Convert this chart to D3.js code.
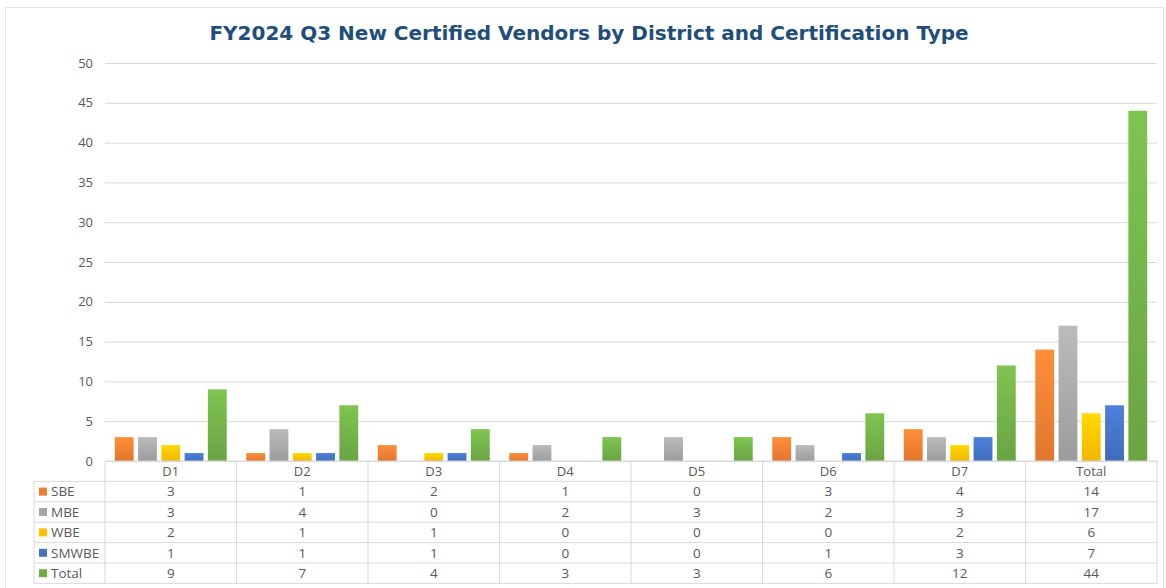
<!DOCTYPE html>
<html lang="en">
<head>
  <meta charset="UTF-8">
  <title>FY2024 Q3 New Certified Vendors by District and Certification Type</title>
  <script src="https://d3js.org/d3.v7.min.js"></script>
  <style>
    body { margin: 0; background: #fff; font-family: "Open Sans", Arial, sans-serif; }
    svg { display: block; }
  </style>
</head>
<body>
  <svg id="chart" width="1166" height="588"></svg>
  <script>
    // categories and series
    const districts = ["D1", "D2", "D3", "D4", "D5", "D6", "D7", "Total"];
    const seriesNames = ["SBE", "MBE", "WBE", "SMWBE", "Total"];
    const sbe   = [3, 1, 2, 1, 0, 3, 4, 14];
    const mbe   = [3, 4, 0, 2, 3, 2, 3, 17];
    const wbe   = [2, 1, 1, 0, 0, 0, 2, 6];
    const smwbe = [1, 1, 1, 0, 0, 1, 3, 7];
    const total = [9, 7, 4, 3, 3, 6, 12, 44];
    const yTicks = [0, 5, 10, 15, 20, 25, 30, 35, 40, 45, 50];

    const seriesValues = [sbe, mbe, wbe, smwbe, total];
    const colors = ["#ED7D31", "#A5A5A5", "#FFC000", "#4472C4", "#70AD47"];

    const svg = d3.select("#chart");
    const plotLeft = 105, plotRight = 1157, plotTop = 63, plotBottom = 461;
    const rowH = 20.4;
    const gridColor = "#d9d9d9";

    // outer border
    svg.append("rect")
      .attr("x", 5.5).attr("y", 7.5)
      .attr("width", 1158).attr("height", 585)
      .attr("fill", "none").attr("stroke", "#e2e2e2");

    // gradients for bars
    const defs = svg.append("defs");
    colors.forEach((c, i) => {
      const g = defs.append("linearGradient")
        .attr("id", "grad" + i)
        .attr("x1", 0).attr("y1", 0).attr("x2", 0).attr("y2", 1);
      g.append("stop").attr("offset", "0%").attr("stop-color", d3.color(c).brighter(0.35));
      g.append("stop").attr("offset", "100%").attr("stop-color", d3.color(c).darker(0.15));
    });

    // title
    svg.append("text")
      .attr("x", 589).attr("y", 40)
      .attr("text-anchor", "middle")
      .attr("fill", "#1F4E79")
      .style("font-family", "'DejaVu Sans', Verdana, sans-serif")
      .style("font-weight", "bold")
      .style("font-size", "20px")
      .text("FY2024 Q3 New Certified Vendors by District and Certification Type");

    const x = d3.scaleBand().domain(districts).range([plotLeft, plotRight]).paddingInner(0).paddingOuter(0);
    const xInner = d3.scaleBand().domain(seriesNames.map((s, i) => i)).range([0, x.bandwidth()])
      .paddingInner(0.19).paddingOuter(0.42);
    const y = d3.scaleLinear().domain([0, 50]).range([plotBottom, plotTop]);

    // gridlines + y axis labels
    const yAxis = svg.append("g")
      .attr("transform", `translate(${plotLeft},0)`)
      .call(d3.axisLeft(y).tickValues(yTicks).tickSize(-(plotRight - plotLeft)).tickPadding(12));
    yAxis.select(".domain").remove();
    yAxis.selectAll(".tick line").attr("stroke", gridColor);
    yAxis.selectAll(".tick text")
      .attr("fill", "#595959")
      .style("font-size", "13px")
      .style("font-family", "'Open Sans', Arial, sans-serif");

    // bars
    seriesValues.forEach((vals, si) => {
      svg.append("g").selectAll("rect")
        .data(vals)
        .join("rect")
        .attr("x", (d, i) => x(districts[i]) + xInner(si))
        .attr("y", d => y(d))
        .attr("width", xInner.bandwidth())
        .attr("height", d => y(0) - y(d))
        .attr("fill", `url(#grad${si})`);
    });

    // data table
    const table = svg.append("g");
    const tableBottom = plotBottom + rowH * 6;
    const legendLeft = 34;

    // horizontal lines
    for (let r = 0; r <= 6; r++) {
      const yy = plotBottom + r * rowH;
      table.append("line")
        .attr("x1", r === 0 ? plotLeft : legendLeft).attr("x2", plotRight)
        .attr("y1", yy).attr("y2", yy)
        .attr("stroke", gridColor);
    }
    // vertical lines
    [plotLeft, ...districts.map(d => x(d) + x.bandwidth())].forEach(xx => {
      table.append("line")
        .attr("x1", xx).attr("x2", xx)
        .attr("y1", plotBottom).attr("y2", tableBottom)
        .attr("stroke", gridColor);
    });
    table.append("line")
      .attr("x1", legendLeft).attr("x2", legendLeft)
      .attr("y1", plotBottom + rowH).attr("y2", tableBottom)
      .attr("stroke", gridColor);

    // header row
    table.selectAll(".hdr")
      .data(districts)
      .join("text")
      .attr("x", d => x(d) + x.bandwidth() / 2)
      .attr("y", plotBottom + rowH / 2)
      .attr("dy", "0.35em")
      .attr("text-anchor", "middle")
      .attr("fill", "#595959")
      .style("font-size", "13px")
      .text(d => d);

    // value rows
    seriesValues.forEach((vals, si) => {
      const cy = plotBottom + rowH * (si + 1) + rowH / 2;
      table.append("rect")
        .attr("x", 39).attr("y", cy - 4)
        .attr("width", 8).attr("height", 8)
        .attr("fill", colors[si]);
      table.append("text")
        .attr("x", 51).attr("y", cy).attr("dy", "0.35em")
        .attr("fill", "#595959")
        .style("font-size", "13.5px")
        .text(seriesNames[si]);
      table.append("g").selectAll("text")
        .data(vals)
        .join("text")
        .attr("x", (d, i) => x(districts[i]) + x.bandwidth() / 2)
        .attr("y", cy).attr("dy", "0.35em")
        .attr("text-anchor", "middle")
        .attr("fill", "#595959")
        .style("font-size", "13.5px")
        .text(d => d);
    });
  </script>
</body>
</html>
